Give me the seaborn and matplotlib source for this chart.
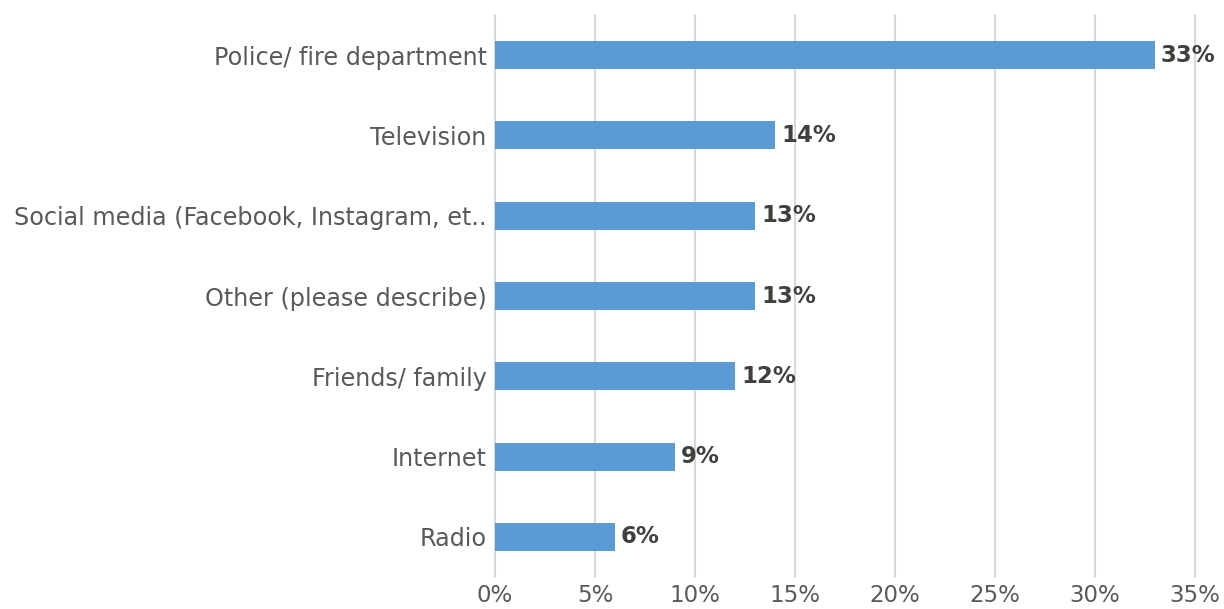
import matplotlib
matplotlib.use("Agg")
import matplotlib.pyplot as plt
import pandas as pd
import seaborn as sns

# Data
categories = [
    "Police/ fire department",
    "Television",
    "Social media (Facebook, Instagram, et..",
    "Other (please describe)",
    "Friends/ family",
    "Internet",
    "Radio",
]
values = [33, 14, 13, 13, 12, 9, 6]
x_ticks = [0, 5, 10, 15, 20, 25, 30, 35]
x_tick_labels = [f"{t}%" for t in x_ticks]

df = pd.DataFrame({"source": categories, "pct": values})

sns.set_theme(style="white")
plt.rcParams["font.family"] = ["DejaVu Sans"]

fig = plt.figure(figsize=(12.24, 6.09), dpi=100)
ax = fig.add_axes([495 / 1224, 32 / 609, 700 / 1224, 562 / 609])

sns.barplot(data=df, x="pct", y="source", color="#5B9BD5", width=0.35,
            saturation=1, linewidth=0, ax=ax, zorder=3)

ax.set_xlim(0, 35)
ax.set_ylim(6.5, -0.5)
ax.set_xticks(x_ticks)
ax.set_xticklabels(x_tick_labels)
ax.set_xlabel("")
ax.set_ylabel("")
ax.grid(axis="x", color="#D9D9D9", linewidth=1.5, zorder=0)
ax.grid(axis="y", visible=False)
# don't let the 0% / 35% gridlines get clipped to half width
for line in ax.get_xgridlines():
    line.set_clip_on(False)
for s in ax.spines.values():
    s.set_visible(False)
ax.tick_params(axis="both", length=0, colors="#595959")
ax.tick_params(axis="x", pad=5, labelsize=16.5)
ax.tick_params(axis="y", pad=6, labelsize=17.2)

# value labels
for i, v in enumerate(values):
    ax.text(v + 0.3, i, f"{v}%", va="center", ha="left",
            fontsize=16.5, fontweight="bold", color="#404040")

fig.savefig("out.png", dpi=100)
